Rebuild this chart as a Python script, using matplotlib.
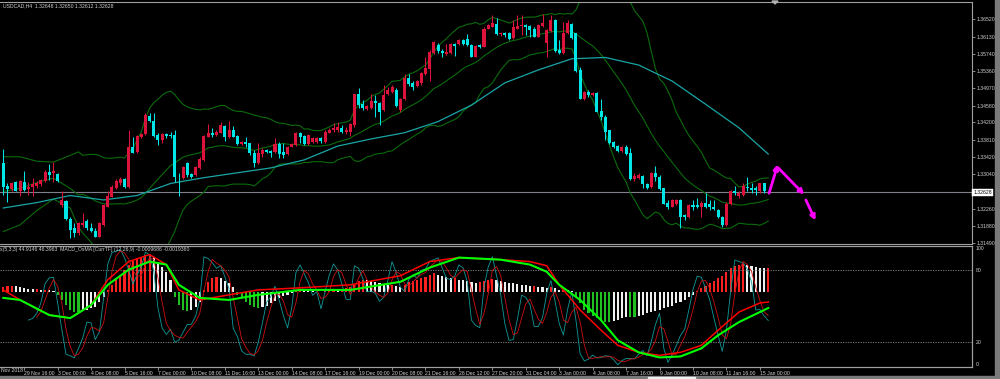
import numpy as np
import pandas as pd
import matplotlib
matplotlib.use("Agg")
import matplotlib.pyplot as plt
from matplotlib.patches import Rectangle, Polygon
from matplotlib.transforms import blended_transform_factory

# ---------------- data (prices in units of 0.0001) ----------------
open_1e4 = [13330,13277,13270,13286,13267,13287,13270,13274,13277,13281,13289,13309,13307,13304,13235,13244,13203,13182,13171,13190,
            13199,13182,13177,13163,13190,13231,13253,13272,13283,13292,13274,13364,13354,13387,13394,13435,13424,13392,13381,13394,
            13392,13392,13298,13295,13328,13304,13302,13317,13336,13388,13397,13392,13397,13413,13387,13403,13390,13372,13377,13373,
            13351,13328,13349,13358,13356,13354,13372,13354,13349,13366,13369,13396,13390,13372,13377,13377,13384,13377,13397,13402,
            13403,13407,13398,13399,13414,13484,13461,13450,13452,13469,13464,13448,13484,13489,13494,13448,13472,13519,13508,13502,
            13508,13529,13539,13575,13594,13581,13574,13575,13596,13596,13605,13607,13594,13568,13594,13590,13631,13635,13641,13618,
            13622,13622,13609,13631,13637,13639,13637,13631,13613,13637,13598,13626,13650,13583,13575,13620,13641,13620,13538,13472,
            13489,13482,13487,13446,13433,13402,13377,13367,13357,13364,13351,13292,13295,13300,13282,13274,13306,13298,13272,13240,
            13231,13238,13247,13212,13207,13235,13235,13230,13240,13238,13231,13223,13208,13190,13237,13265,13255,13257,13276,13272,
            13272,13265,13283,13264.8]
high_1e4 = [13360,13283,13287,13289,13291,13312,13287,13295,13289,13293,13313,13327,13332,13307,13265,13246,13208,13194,13197,13217,
            13203,13194,13182,13197,13238,13265,13280,13292,13297,13295,13402,13387,13392,13397,13441,13442,13441,13397,13397,13397,
            13399,13402,13306,13322,13332,13307,13322,13343,13392,13417,13407,13402,13422,13414,13424,13413,13392,13379,13388,13375,
            13358,13373,13362,13360,13358,13384,13377,13373,13367,13373,13399,13399,13392,13393,13388,13387,13388,13402,13407,13418,
            13422,13414,13410,13419,13485,13497,13470,13459,13484,13482,13467,13504,13499,13504,13497,13474,13529,13529,13512,13515,
            13534,13566,13583,13604,13598,13584,13596,13599,13598,13607,13607,13619,13596,13594,13596,13634,13641,13661,13654,13624,
            13624,13624,13649,13661,13661,13641,13639,13634,13641,13664,13631,13661,13652,13605,13646,13650,13644,13622,13545,13491,
            13493,13488,13488,13472,13437,13403,13378,13369,13367,13369,13362,13306,13306,13302,13284,13309,13322,13302,13273,13246,
            13248,13248,13248,13214,13238,13246,13250,13244,13261,13247,13247,13226,13210,13241,13268,13277,13265,13285,13297,13285,
            13277,13285,13285,13265.0]
low_1e4 = [13257,13242,13267,13265,13255,13265,13257,13255,13272,13277,13287,13291,13287,13286,13231,13201,13160,13163,13167,13186,
           13179,13175,13162,13162,13188,13230,13252,13270,13280,13272,13272,13351,13352,13384,13392,13422,13388,13369,13375,13384,
           13384,13287,13255,13292,13298,13295,13300,13316,13334,13387,13388,13390,13396,13379,13384,13387,13369,13369,13366,13347,
           13321,13327,13343,13352,13343,13351,13340,13340,13347,13364,13367,13373,13369,13369,13373,13373,13373,13375,13396,13399,
           13399,13397,13394,13390,13410,13452,13448,13448,13450,13433,13414,13446,13482,13487,13455,13444,13470,13502,13494,13499,
           13504,13527,13512,13574,13577,13568,13571,13574,13569,13594,13594,13592,13566,13566,13587,13589,13629,13634,13616,13614,
           13613,13605,13607,13629,13616,13616,13613,13611,13611,13635,13568,13624,13579,13573,13574,13619,13607,13534,13472,13470,
           13478,13479,13443,13426,13381,13372,13363,13354,13354,13347,13291,13289,13292,13272,13271,13273,13289,13268,13237,13225,
           13230,13235,13182,13201,13205,13223,13227,13208,13227,13223,13223,13205,13186,13188,13235,13257,13250,13255,13265,13261,
           13257,13262,13261,13261.2]
close_1e4 = [13274,13270,13283,13267,13289,13268,13276,13281,13283,13291,13309,13302,13311,13289,13246,13203,13179,13171,13194,13195,
             13182,13177,13163,13194,13235,13255,13276,13289,13292,13274,13364,13352,13390,13394,13437,13424,13390,13381,13394,13390,
             13390,13297,13297,13319,13302,13298,13319,13337,13390,13396,13392,13399,13414,13388,13403,13388,13372,13377,13372,13351,
             13328,13351,13358,13354,13351,13372,13349,13347,13366,13371,13397,13388,13372,13392,13384,13384,13378,13399,13403,13408,
             13410,13399,13402,13417,13484,13459,13452,13457,13469,13463,13444,13482,13494,13500,13457,13472,13519,13506,13500,13512,
             13532,13542,13579,13601,13581,13575,13579,13596,13592,13605,13596,13594,13568,13592,13589,13631,13639,13644,13619,13622,
             13616,13607,13634,13637,13639,13635,13628,13613,13639,13643,13628,13650,13581,13575,13622,13643,13609,13536,13473,13489,
             13482,13487,13444,13432,13399,13373,13364,13357,13366,13349,13292,13300,13302,13282,13272,13306,13297,13270,13238,13230,
             13246,13246,13208,13207,13235,13230,13230,13240,13230,13231,13225,13207,13190,13238,13265,13261,13261,13277,13272,13268,
             13268,13283,13265,13262.8]

# Bollinger(20,2) values before the first full 20-bar window
bb_head_idx = [0, 4, 8, 12, 16, 18]
bb_head_upper = [13343, 13343, 13333, 13331, 13346, 13354]
bb_head_mid = [13265, 13272, 13285, 13295, 13272, 13257]
bb_head_lower = [13175, 13190, 13222, 13248, 13228, 13185]

# slow moving average (teal), read at bar indices
ma_idx = [0, 8, 16, 24, 32, 40, 48, 56, 64, 72, 80, 88, 96, 104, 112, 120, 128, 136, 144, 152, 160, 168, 176, 183]
ma_val = [13228, 13240, 13256, 13246, 13256, 13283, 13296, 13307, 13318, 13336, 13367, 13383, 13397, 13422, 13459, 13509,
          13538, 13563, 13566, 13549, 13513, 13461, 13408, 13349]

# OsMA histogram (points = 0.00001)
osma_pts = [20,24,26,24,20,16,14,12,12,10,10,8,6,-10,-30,-50,-70,-80,-80,-75,
            -70,-65,-60,-40,-20,10,30,50,70,90,110,125,135,140,148,150,140,120,100,80,
            50,-20,-50,-70,-75,-70,-60,-40,10,40,55,60,55,45,35,20,-10,-25,-40,-50,
            -60,-65,-60,-55,-45,-35,-25,-15,-10,-5,5,10,8,5,3,2,0,5,10,12,
            10,12,15,20,30,45,50,48,45,40,35,30,28,30,25,22,30,40,45,50,
            55,60,70,75,70,65,60,55,55,50,48,45,40,38,40,45,50,52,50,45,
            40,38,35,33,30,28,25,25,22,20,18,20,15,10,10,8,5,-20,-45,-70,
            -85,-95,-105,-115,-120,-120,-115,-110,-105,-100,-100,-100,-95,-90,-85,-80,-75,-70,-65,-60,
            -55,-45,-40,-30,-20,-10,5,15,25,35,45,55,65,80,95,105,110,112,110,105,
            100,98,97,97]

# slow oscillator lines (0..100), read at bar indices
osc_idx = [0, 4, 11, 16, 21, 25, 30, 35, 39, 42, 47, 54, 61, 71, 83, 95, 102, 109, 119, 126, 130, 133, 138, 143,
           147, 152, 157, 162, 167, 171, 176, 181, 183]
osc_green = [56.7, 55, 42.5, 40, 50.8, 67.5, 80, 86.7, 84.2, 67.5, 56.7, 55, 59.2, 63.3, 63.3, 70, 81.7, 90, 88.3, 84.2,
             78.3, 67.5, 55, 38.3, 21.7, 11.7, 7.5, 8.3, 15, 25.8, 36.7, 45, 48.3]
osc_red = [63.3, 55, 42.5, 40, 50.8, 71.7, 86.7, 92.5, 84.2, 63.3, 55, 59.2, 63.3, 65, 67.5, 75, 86.7, 90, 88.3, 86.7,
           83.3, 67.5, 46.7, 30, 17.5, 11.7, 9.2, 11.7, 17.5, 30, 45, 52.5, 53.3]

time_labels = ["29 Nov 16:00", "3 Dec 00:00", "4 Dec 08:00", "5 Dec 16:00", "7 Dec 00:00", "10 Dec 08:00",
               "11 Dec 16:00", "13 Dec 00:00", "14 Dec 08:00", "17 Dec 16:00", "19 Dec 00:00", "20 Dec 08:00",
               "21 Dec 16:00", "26 Dec 12:00", "27 Dec 20:00", "31 Dec 04:00", "3 Jan 00:00", "4 Jan 08:00",
               "7 Jan 16:00", "9 Jan 00:00", "10 Jan 08:00", "11 Jan 16:00", "15 Jan 00:00"]
price_ticks = [1.36520, 1.36130, 1.35740, 1.35360, 1.34970, 1.34580, 1.34200, 1.33810, 1.33420, 1.33040,
               1.32260, 1.31880, 1.31490]

# hand-drawn forecast arrows: (bar index, price)
arrow_segments = [((183.2, 1.32610), (185.3, 1.33260)),
                  ((185.4, 1.33180), (191.6, 1.32580)),
                  ((192.0, 1.32460), (194.3, 1.32000))]

# ---------------- derived ----------------
o = np.array(open_1e4) / 1e4
h = np.array(high_1e4) / 1e4
l = np.array(low_1e4) / 1e4
c = np.array(close_1e4) / 1e4
n = len(c)
idx = np.arange(n)

cs = pd.Series(c)
mid = cs.rolling(20).mean()
sd = cs.rolling(20).std(ddof=0)
upper = mid + 2 * sd
lower = mid - 2 * sd

hs, ls = pd.Series(h), pd.Series(l)
hh = hs.rolling(5).max()
ll = ls.rolling(5).min()
k_line = 100 * (cs - ll).rolling(3).sum() / (hh - ll).rolling(3).sum()
d_line = k_line.rolling(3).mean()

# ---------------- figure ----------------
W, H = 1000, 379
fig = plt.figure(figsize=(W / 100, H / 100), dpi=100, facecolor="black")
plt.rcParams["font.family"] = ["Liberation Sans", "DejaVu Sans"]
FS = 3.7
TXT = "#d2d2d2"
FRAME = "#a0a0a0"


def rect(x0, y0, x1, y1):
    return [x0 / W, 1 - y1 / H, (x1 - x0) / W, (y1 - y0) / H]


x_lo = -3.3 / 4.18
x_hi = (972 - 3.3) / 4.18

# main price panel
ax = fig.add_axes(rect(0, 1.5, 972, 243.5))
ax.set_facecolor("black")
ax.set_xlim(x_lo, x_hi)
ax.set_ylim(1.36950 - 0.00022455 * 243.5, 1.36950 - 0.00022455 * 1.5)

bull = c >= o
col = np.where(bull, "#dc143c", "#00e6e6")
ax.vlines(idx, l, h, colors=col, linewidth=0.75, zorder=3)
body_lo = np.minimum(o, c)
body_h = np.maximum(np.abs(c - o), 0.000012)
ax.bar(idx, body_h, bottom=body_lo, width=0.72, color=col, linewidth=0, zorder=4)

band_col = "#0b6b0b"
for head, series in ((bb_head_upper, upper), (bb_head_mid, mid), (bb_head_lower, lower)):
    xs = list(bb_head_idx) + list(idx[19:])
    ys = list(np.array(head) / 1e4) + list(series.values[19:])
    ax.plot(xs, ys, color=band_col, linewidth=0.8, zorder=2)

ax.plot(ma_idx, np.array(ma_val) / 1e4, color="#1aa5a5", linewidth=0.9, zorder=2)
ax.axhline(c[-1], color="#80808c", linewidth=0.8, zorder=1)

for (x0, y0), (x1, y1) in arrow_segments:
    ax.annotate("", xy=(x1, y1), xytext=(x0, y0),
                arrowprops=dict(arrowstyle="-|>", color="#ff00ff", lw=2.0, mutation_scale=7,
                                shrinkA=0, shrinkB=0), zorder=6, annotation_clip=False)

ax.yaxis.tick_right()
ax.set_yticks(price_ticks)
ax.set_yticklabels([f"{p:.5f}" for p in price_ticks])
ax.tick_params(axis="y", colors=FRAME, labelcolor=TXT, labelsize=FS, length=2.2, width=0.6, pad=1.2)
ax.set_xticks([])
ax.spines["left"].set_visible(False)
for s in ("top", "right", "bottom"):
    ax.spines[s].set_color(FRAME)
    ax.spines[s].set_linewidth(0.8)

tr = blended_transform_factory(ax.transAxes, ax.transData)
ax.text(1.0015, c[-1], f"{c[-1]:.5f}", transform=tr, fontsize=FS, color="black", va="center", ha="left",
        bbox=dict(boxstyle="square,pad=0.25", fc="white", ec="white", lw=0.3), zorder=10, clip_on=False)

fig.text(3 / W, 1 - 5.5 / H, "USDCAD,H4  1.32648 1.32650 1.32612 1.32628", color=TXT, fontsize=FS,
         va="center", ha="left")

# chart-shift marker at the top edge
fig.patches.append(Polygon([(772 / W, 1 - 1 / H), (778 / W, 1 - 1 / H), (775 / W, 1 - 4 / H)],
                           closed=True, transform=fig.transFigure, color="#b0b0b0", zorder=5))

# indicator panel
ax2 = fig.add_axes(rect(0, 245.5, 972, 366.5))
ax2.set_facecolor("black")
ax2.set_xlim(x_lo, x_hi)
ax2.set_ylim(-298, 186)
osma = np.array(osma_pts, dtype=float)
prev = np.concatenate([[osma[0]], osma[:-1]])
hcol = np.where((osma > 0) & (osma >= prev), "#ff2020",
                np.where((osma < 0) & (osma <= prev), "#20c020", "#f0f0f0"))
ax2.bar(idx, osma, width=0.5, color=hcol, linewidth=0, zorder=1)
ax2.set_yticks([])

tick_idx = [5 + 8 * k for k in range(len(time_labels))]
ax2.set_xticks(tick_idx)
ax2.set_xticklabels(time_labels)
for t in ax2.get_xticklabels():
    t.set_ha("left")
ax2.tick_params(axis="x", colors=FRAME, labelcolor=TXT, labelsize=FS, length=2.5, width=0.6, pad=0.8)

ax3 = ax2.twinx()
ax3.set_xlim(x_lo, x_hi)
ax3.set_ylim(0, 100)
ax3.axhline(80, color="#8a8a8a", linewidth=0.6, linestyle=(0, (1.5, 1.5)))
ax3.axhline(20, color="#8a8a8a", linewidth=0.6, linestyle=(0, (1.5, 1.5)))
ax3.plot(idx, k_line, color="#0f9a9a", linewidth=0.6)
ax3.plot(idx, d_line, color="#d01010", linewidth=0.6)
ax3.plot(osc_idx, osc_red, color="#ff0000", linewidth=1.1)
ax3.plot(osc_idx, osc_green, color="#00ff00", linewidth=1.5)
ax3.set_yticks([0, 20, 80, 100])
ax3.set_yticklabels(["0", "20", "80", "100"])
ax3.tick_params(axis="y", colors=FRAME, labelcolor=TXT, labelsize=FS, length=0, pad=2.5)
labs = ax3.get_yticklabels()
labs[0].set_va("bottom")
labs[3].set_va("top")

for a in (ax2, ax3):
    a.spines["left"].set_visible(False)
    for s in ("top", "right", "bottom"):
        a.spines[s].set_color(FRAME)
        a.spines[s].set_linewidth(0.8)

fig.text(1 / W, 1 - 371 / H, "Nov 2018", color=TXT, fontsize=FS, va="center", ha="left")
fig.text(0 / W, 1 - 250 / H, "s(5,3,3) 44.9146 46.3963  MACD_OsMA [CurrTF] (12,26,9) -0.0009686 -0.0019360",
         color=TXT, fontsize=FS, va="center", ha="left")

# window chrome
fig.patches.append(Rectangle((995 / W, 0), 5 / W, 1, transform=fig.transFigure, color="#7a7a7a", zorder=0))
fig.patches.append(Rectangle((0, 0), 1, 3 / H, transform=fig.transFigure, color="#7a7a7a", zorder=0))
fig.patches.append(Rectangle((648 / W, 0), 47 / W, 2.5 / H, transform=fig.transFigure, color="#f0f0f0", zorder=1))

fig.savefig("out.png", dpi=100, facecolor="black")
